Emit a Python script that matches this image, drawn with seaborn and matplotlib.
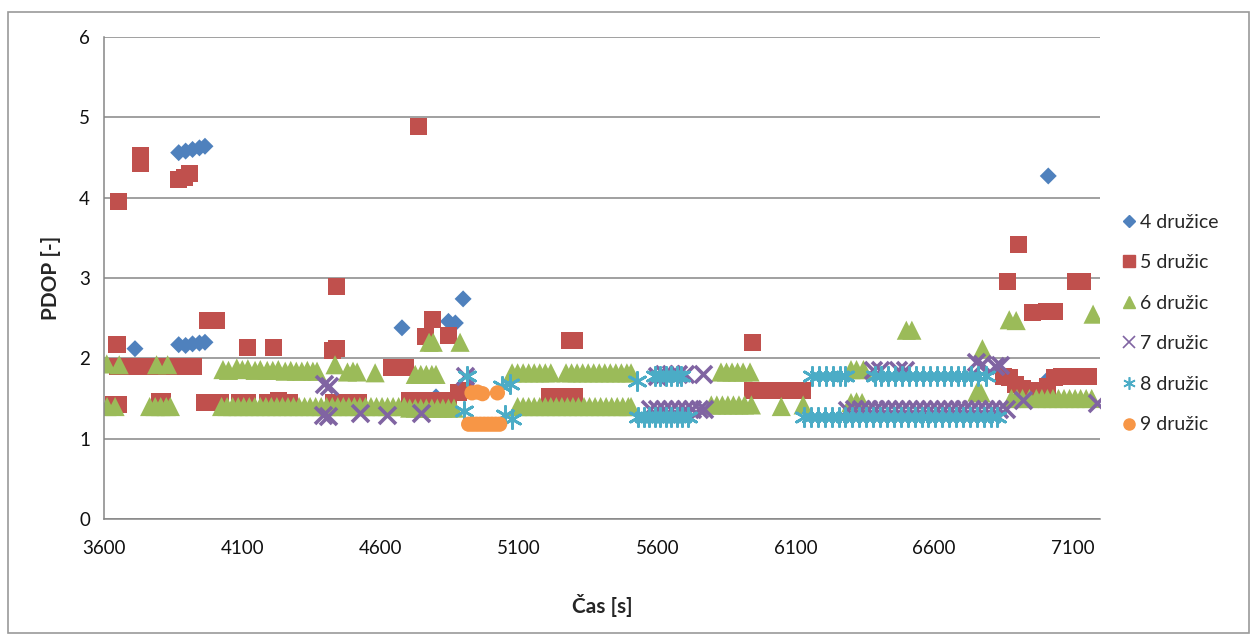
import matplotlib
matplotlib.use("Agg")
import matplotlib.pyplot as plt
from matplotlib.lines import Line2D
import seaborn as sns

# PDOP vs. time, split by number of visible satellites
labels = ["4 družice", "5 družic", "6 družic", "7 družic", "8 družic", "9 družic"]
colors = ["#4F81BD", "#C0504D", "#9BBB59", "#8064A2", "#4BACC6", "#F79646"]
x_ticks = [3600, 4100, 4600, 5100, 5600, 6100, 6600, 7100]
y_ticks = [0, 1, 2, 3, 4, 5, 6]

s4_x = [3712, 3870, 3895, 3920, 3945, 3965, 3870, 3895, 3920, 3945, 3965,
        4677, 4800, 4845, 4870, 4898, 7013, 7009]
s4_y = [2.12, 4.56, 4.58, 4.60, 4.62, 4.64, 2.17, 2.16, 2.18, 2.19, 2.20,
        2.38, 1.52, 2.46, 2.44, 2.74, 4.27, 1.73]

s5_x = [3654, 3732, 3732, 3868, 3890, 3910,
        3647, 3975, 4005, 4117, 4211, 4425, 4440, 4442, 4735, 4762, 4787, 4845,
        5282, 5300, 5945, 6864, 6904, 6955, 7005, 7035, 7110, 7135,
        3650, 3670, 3690, 3710, 3730, 3750, 3770, 3790, 3810, 3830, 3850, 3870,
        3890, 3910, 3925,
        4640, 4660, 4690,
        3635, 3652, 3800, 3812, 3965, 3985, 4005, 4020, 4090, 4105, 4120,
        4190, 4210, 4230, 4250, 4272, 4430, 4450, 4500, 4520,
        4705, 4725, 4745, 4765, 4785, 4805, 4825, 4845, 4880, 4905,
        5210, 5230, 5250, 5270, 5290, 5302,
        5945, 5965, 5985, 6005, 6025, 6045, 6065, 6085, 6105, 6125,
        6850, 6872, 6895, 6920, 6945, 6970, 6990, 7010, 7035, 7060, 7085, 7110,
        7135, 7160]
s5_y = [3.95, 4.52, 4.42, 4.22, 4.25, 4.30,
        2.17, 2.47, 2.47, 2.14, 2.13, 2.10, 2.12, 2.90, 4.88, 2.27, 2.48, 2.28,
        2.22, 2.22, 2.20, 2.96, 3.42, 2.57, 2.58, 2.58, 2.96, 2.96,
        1.90, 1.90, 1.90, 1.90, 1.90, 1.90, 1.90, 1.90, 1.90, 1.90, 1.90, 1.90,
        1.90, 1.90, 1.90,
        1.88, 1.88, 1.88,
        1.42, 1.42, 1.46, 1.46, 1.45, 1.45, 1.45, 1.45, 1.45, 1.45, 1.45,
        1.45, 1.45, 1.47, 1.45, 1.45, 1.45, 1.45, 1.45, 1.45,
        1.47, 1.47, 1.47, 1.47, 1.47, 1.47, 1.47, 1.47, 1.58, 1.60,
        1.53, 1.53, 1.53, 1.53, 1.53, 1.53,
        1.60, 1.60, 1.60, 1.60, 1.60, 1.60, 1.60, 1.60, 1.60, 1.60,
        1.77, 1.76, 1.68, 1.62, 1.60, 1.58, 1.60, 1.65, 1.76, 1.78, 1.78, 1.78,
        1.78, 1.78]

s6_x = [3610, 3655, 3790, 3830,
        4030, 4050, 4080, 4100, 4120, 4146, 4165, 4190, 4210, 4230, 4255, 4275,
        4295, 4315, 4335, 4355, 4370, 4435, 4480, 4500, 4515, 4580,
        4725, 4745, 4765, 4785, 4800, 4775, 4790, 4887,
        5075, 5095, 5115, 5135, 5155, 5175, 5195, 5215,
        5270, 5290, 5310, 5330, 5350, 5370, 5390, 5410, 5430, 5450, 5470, 5490,
        5505,
        5830, 5850, 5870, 5890, 5910, 5935, 6300, 6320, 6345,
        6500, 6520, 6775, 6872, 6897, 7175,
        3611, 3640, 3765, 3785, 3805, 3825, 3840,
        4025, 4045, 4065, 4085, 4105, 4125, 4145, 4165, 4185, 4205, 4225, 4245,
        4265, 4285, 4305, 4325, 4345, 4365, 4385, 4405, 4425, 4445, 4465, 4485,
        4505, 4525, 4545, 4565, 4585, 4605, 4625, 4645, 4665, 4685, 4705, 4725,
        4745, 4765, 4785, 4805, 4825, 4845, 4865,
        5095, 5115, 5135, 5155, 5175, 5195, 5215, 5235, 5255, 5275, 5295, 5315,
        5335, 5355, 5375, 5395, 5415, 5435, 5455, 5475, 5495, 5505,
        5795, 5815, 5835, 5855, 5875, 5895, 5915, 5940, 6048, 6127,
        6300, 6320, 6340, 6755, 6770,
        6880, 6900, 6920, 6945, 6970, 6990, 7010, 7030, 7050, 7070, 7090, 7110,
        7130, 7150, 7170]
s6_y = [1.93, 1.92, 1.92, 1.92,
        1.86, 1.85, 1.88, 1.86, 1.87, 1.85, 1.86, 1.85, 1.85, 1.86, 1.84, 1.85,
        1.84, 1.84, 1.85, 1.84, 1.84, 1.92, 1.83, 1.84, 1.83, 1.82,
        1.80, 1.80, 1.80, 1.80, 1.80, 2.20, 2.20, 2.20,
        1.82, 1.82, 1.82, 1.82, 1.82, 1.82, 1.82, 1.82,
        1.82, 1.82, 1.82, 1.82, 1.82, 1.82, 1.82, 1.82, 1.82, 1.82, 1.82, 1.82,
        1.82,
        1.83, 1.83, 1.83, 1.83, 1.83, 1.83, 1.86, 1.86, 1.86,
        2.35, 2.35, 2.12, 2.48, 2.47, 2.55,
        1.40, 1.40, 1.40, 1.40, 1.40, 1.40, 1.40,
        1.40, 1.40, 1.40, 1.40, 1.40, 1.40, 1.40, 1.40, 1.40, 1.40, 1.40, 1.40,
        1.40, 1.40, 1.40, 1.40, 1.40, 1.40, 1.40, 1.40, 1.40, 1.40, 1.40, 1.40,
        1.40, 1.40, 1.40, 1.40, 1.40, 1.40, 1.40, 1.40, 1.40, 1.40, 1.38, 1.38,
        1.38, 1.38, 1.38, 1.38, 1.38, 1.38, 1.38,
        1.40, 1.40, 1.40, 1.40, 1.40, 1.40, 1.40, 1.40, 1.40, 1.40, 1.40, 1.40,
        1.40, 1.40, 1.40, 1.40, 1.40, 1.40, 1.40, 1.40, 1.40, 1.40,
        1.42, 1.42, 1.42, 1.42, 1.42, 1.42, 1.42, 1.42, 1.40, 1.42,
        1.45, 1.46, 1.45, 1.58, 1.57,
        1.50, 1.50, 1.50, 1.50, 1.50, 1.50, 1.50, 1.50, 1.50, 1.50, 1.50, 1.50,
        1.50, 1.50, 1.50]

s7_x = [4395, 4412, 4390, 4408, 4525, 4623, 4746, 4905,
        5600, 5625, 5650, 5675, 5700, 5765,
        5575, 5600, 5625, 5650, 5675, 5700, 5725, 5750, 5770,
        6285, 6380, 6405, 6470, 6495, 6750, 6775, 6820, 6840,
        6310, 6335, 6360, 6385, 6410, 6435, 6460, 6485, 6510, 6535, 6560, 6585,
        6610, 6635, 6660, 6685, 6710, 6735, 6760, 6785, 6810, 6835, 6860,
        6922, 7190]
s7_y = [1.68, 1.66, 1.30, 1.28, 1.32, 1.30, 1.32, 1.78,
        1.78, 1.80, 1.80, 1.80, 1.80, 1.80,
        1.37, 1.37, 1.37, 1.37, 1.37, 1.37, 1.37, 1.37, 1.37,
        1.36, 1.85, 1.86, 1.85, 1.86, 1.96, 1.93, 1.90, 1.92,
        1.37, 1.37, 1.37, 1.37, 1.37, 1.37, 1.37, 1.37, 1.37, 1.37, 1.37, 1.37,
        1.37, 1.37, 1.37, 1.37, 1.37, 1.37, 1.37, 1.37, 1.37, 1.37, 1.37,
        1.48, 1.45]

s8_x = [4900, 4912, 5040, 5068, 5050, 5075, 5525,
        5590, 5610, 5630, 5650, 5670, 5685,
        5530, 5550, 5570, 5590, 5610, 5630, 5650, 5670, 5690, 5710,
        6160, 6185, 6210, 6235, 6260, 6280,
        6385, 6410, 6435, 6460, 6485, 6510, 6535, 6560, 6585, 6610, 6635, 6660,
        6685, 6710, 6735, 6760, 6788,
        6130, 6155, 6180, 6205, 6230, 6255, 6280, 6305, 6330, 6355, 6380, 6405,
        6430, 6455, 6480, 6505, 6530, 6555, 6580, 6605, 6630, 6655, 6680, 6705,
        6730, 6755, 6780, 6805, 6828]
s8_y = [1.35, 1.78, 1.65, 1.68, 1.30, 1.25, 1.72,
        1.78, 1.78, 1.78, 1.78, 1.78, 1.78,
        1.27, 1.27, 1.27, 1.27, 1.27, 1.27, 1.27, 1.27, 1.27, 1.27,
        1.78, 1.78, 1.78, 1.78, 1.78, 1.78,
        1.78, 1.78, 1.78, 1.78, 1.78, 1.78, 1.78, 1.78, 1.78, 1.78, 1.78, 1.78,
        1.78, 1.78, 1.78, 1.78, 1.78,
        1.27, 1.27, 1.27, 1.27, 1.27, 1.27, 1.27, 1.27, 1.27, 1.27, 1.27, 1.27,
        1.27, 1.27, 1.27, 1.27, 1.27, 1.27, 1.27, 1.27, 1.27, 1.27, 1.27, 1.27,
        1.27, 1.27, 1.27, 1.27, 1.27]

s9_x = [4930, 4950, 4968, 5022,
        4918, 4932, 4946, 4960, 4974, 4988, 5002, 5016, 5030]
s9_y = [1.57, 1.58, 1.56, 1.57,
        1.18, 1.18, 1.18, 1.18, 1.18, 1.18, 1.18, 1.18, 1.18]

series_x = [s4_x, s5_x, s6_x, s7_x, s8_x, s9_x]
series_y = [s4_y, s5_y, s6_y, s7_y, s8_y, s9_y]

# marker, size, line width (0 -> filled marker without outline)
marker_styles = [("D", 75, 0), ("s", 150, 0), ("^", 190, 0),
                 ("x", 150, 2.6), ((6, 2, 0), 170, 2.0), ("o", 120, 0)]

sns.set_style("white")
plt.rcParams["font.family"] = ["Lato", "DejaVu Sans"]

fig = plt.figure(figsize=(12.57, 6.37), dpi=100)
ax = fig.add_axes([104 / 1257, 1 - 519 / 637, 996 / 1257, 482 / 637])

for xs, ys, lab, col, (mk, sz, lw) in zip(series_x, series_y, labels, colors, marker_styles):
    if lw == 0:
        sns.scatterplot(x=xs, y=ys, ax=ax, marker=mk, s=sz, color=col,
                        edgecolor="none", linewidth=0, label=lab, legend=False)
    else:
        sns.scatterplot(x=xs, y=ys, ax=ax, marker=mk, s=sz, color=col,
                        linewidth=lw, label=lab, legend=False)

grid_col = "#868686"
ax.set_xlim(3600, 7200)
ax.set_ylim(0, 6)
ax.set_xticks(x_ticks)
ax.set_yticks(y_ticks)
ax.yaxis.grid(True, color=grid_col, linewidth=1.1)
ax.xaxis.grid(False)
ax.set_axisbelow(True)
for side in ("top", "right"):
    ax.spines[side].set_visible(False)
for side in ("left", "bottom"):
    ax.spines[side].set_color(grid_col)
    ax.spines[side].set_linewidth(1.1)
ax.tick_params(axis="both", direction="out", length=5, width=1, color=grid_col,
               labelsize=13.5, labelcolor="#111111", pad=5)
ax.tick_params(axis="x", pad=10)

ax.set_xlabel("Čas [s]", fontsize=15, fontweight="bold", labelpad=27)
ax.set_ylabel("PDOP [-]", fontsize=15, fontweight="bold", labelpad=13)

# legend with small markers on the right
handles = []
for lab, col, (mk, sz, lw) in zip(labels, colors, marker_styles):
    if lw == 0:
        handles.append(Line2D([], [], linestyle="none", marker=mk, markersize=8 if mk != "D" else 6,
                              markerfacecolor=col, markeredgecolor=col, label=lab))
    else:
        handles.append(Line2D([], [], linestyle="none", marker=mk, markersize=9,
                              markeredgecolor=col, markeredgewidth=1.2, label=lab))
fig.legend(handles=handles, loc="center left", bbox_to_anchor=(1113 / 1257, 1 - 323.5 / 637),
           frameon=False, fontsize=14, handlelength=0.8, handletextpad=0.2,
           labelspacing=1.21, borderaxespad=0)

# outer chart frame
frame = plt.Rectangle((8 / 1257, 4 / 637), 1241 / 1257, 621 / 637, transform=fig.transFigure,
                      fill=False, edgecolor="#9a9a9a", linewidth=1.2)
fig.add_artist(frame)

fig.savefig("out.png", dpi=100, facecolor="white")
